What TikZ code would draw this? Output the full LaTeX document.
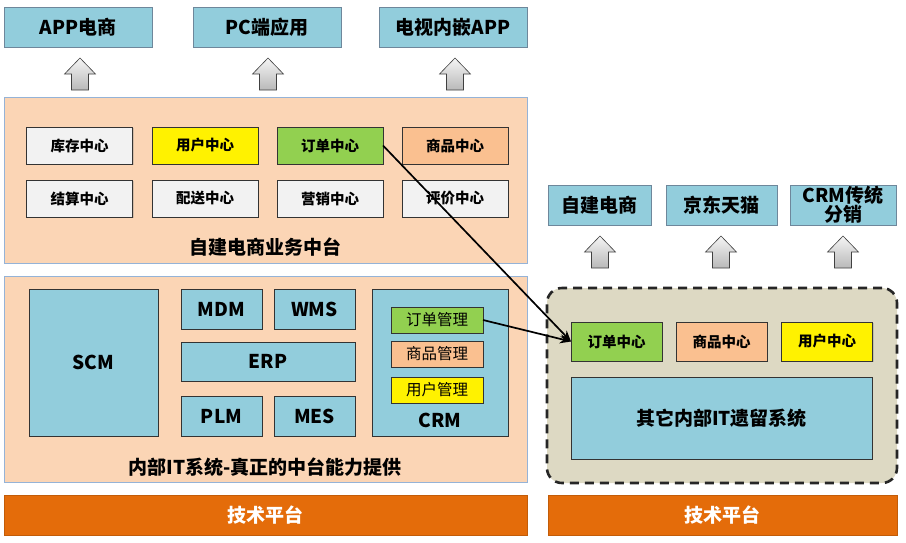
\documentclass[tikz,border=0pt]{standalone}
\usepackage{fontspec}
\setmainfont{Noto Sans CJK SC}
\usetikzlibrary{arrows.meta,shadows}
\definecolor{skyblue}{RGB}{146,205,220}
\definecolor{edgeblue}{RGB}{110,135,155}
\definecolor{peach}{RGB}{251,213,181}
\definecolor{layeredge}{RGB}{149,179,215}
\definecolor{apricot}{RGB}{250,192,144}
\definecolor{leafgreen}{RGB}{146,208,80}
\definecolor{lightgray}{RGB}{242,242,242}
\definecolor{techorange}{RGB}{228,108,10}
\definecolor{oldbg}{RGB}{221,217,195}
\newcommand{\headfont}{\fontsize{19}{20}\selectfont\bfseries}
\begin{document}
\begin{tikzpicture}[x=1pt,y=-1pt,
    box/.style={draw=black!80,line width=0.6pt,inner sep=0pt,outer sep=0pt,
      drop shadow={shadow xshift=1.2pt,shadow yshift=-1.2pt,opacity=0.3}},
    topbox/.style={box,draw=edgeblue,fill=skyblue,minimum height=40pt,font=\headfont},
    cell/.style={box,minimum width=106pt,minimum height=37pt,font=\fontsize{14.5}{15}\selectfont\bfseries},
    rcell/.style={box,minimum width=91pt,minimum height=39pt,font=\fontsize{14.5}{15}\selectfont\bfseries},
    sysbox/.style={box,fill=skyblue,font=\headfont},
    subbox/.style={box,minimum width=92pt,minimum height=26pt,font=\fontsize{15.5}{16}\selectfont},
    layer/.style={draw=layeredge,fill=peach,line width=0.8pt,inner sep=0pt,outer sep=0pt},
    platform/.style={draw=techorange!85!black,fill=techorange,line width=0.6pt,minimum height=40pt,
      inner sep=0pt,text=white,font=\headfont},
    title/.style={font=\headfont},
    uparrow/.style={draw=black!75,line width=0.6pt,top color=gray!8,bottom color=gray!55},
    link/.style={-{Stealth[length=11pt,width=9pt]},line width=1.7pt}
  ]
  \useasboundingbox (0,0) rectangle (906,542);

  \node[topbox,minimum width=148pt] (app) at (78,27) {APP电商};
  \node[topbox,minimum width=148pt] (pc) at (267,27) {PC端应用};
  \node[topbox,minimum width=148pt] (tv) at (453,27) {电视内嵌APP};

  \node[topbox,minimum width=103pt] (own) at (599.5,205) {自建电商};
  \node[topbox,minimum width=111pt] (jd) at (721.5,205) {京东天猫};
  \node[topbox,minimum width=106pt,align=center,font=\fontsize{19}{17}\selectfont\bfseries] (dist) at (843,205) {CRM传统\\分销};

  \foreach \x/\y in {80/58,268/58,455/58,600/236,721/236,843/236}
    \draw[uparrow] (\x,\y) -- ++(15.5,16) -- ++(-7,0) -- ++(0,16) -- ++(-17,0)
      -- ++(0,-16) -- ++(-7,0) -- cycle;

  \node[layer,minimum width=523pt,minimum height=166pt] (biz) at (265.5,180) {};
  \node[cell,fill=lightgray] (stock) at (79.5,145.5) {库存中心};
  \node[cell,fill=yellow] (user) at (205,145.5) {用户中心};
  \node[cell,fill=leafgreen] (order) at (330,145.5) {订单中心};
  \node[cell,fill=apricot] (goods) at (455,145.5) {商品中心};
  \node[cell,fill=lightgray] (settle) at (79.5,198.5) {结算中心};
  \node[cell,fill=lightgray] (ship) at (205,198.5) {配送中心};
  \node[cell,fill=lightgray] (market) at (330,198.5) {营销中心};
  \node[cell,fill=lightgray] (review) at (455,198.5) {评价中心};
  \node[title] (bizname) at (265,247) {自建电商业务中台};

  \node[layer,minimum width=523pt,minimum height=206pt] (inner) at (265.5,379) {};
  \node[sysbox,minimum width=129pt,minimum height=147pt] (scm) at (93.5,362.5) {SCM};
  \node[sysbox,minimum width=81pt,minimum height=40pt] (mdm) at (221.5,309) {MDM};
  \node[sysbox,minimum width=81pt,minimum height=40pt] (wms) at (314.5,309) {WMS};
  \node[sysbox,minimum width=174pt,minimum height=39pt] (erp) at (268,361.5) {ERP};
  \node[sysbox,minimum width=81pt,minimum height=40pt] (plm) at (221.5,416) {PLM};
  \node[sysbox,minimum width=81pt,minimum height=40pt] (mes) at (314.5,416) {MES};
  \node[sysbox,minimum width=136pt,minimum height=147pt] (crm) at (440,362.5) {};
  \node[title] (crmname) at (440,420) {CRM};
  \node[subbox,fill=leafgreen] (ordermgr) at (437,320) {订单管理};
  \node[subbox,fill=apricot] (goodsmgr) at (437,354) {商品管理};
  \node[subbox,fill=yellow] (usermgr) at (437,390) {用户管理};
  \node[title] (innername) at (265,467) {内部IT系统-真正的中台能力提供};

  \node[platform,minimum width=523pt] (techl) at (265.5,515) {技术平台};
  \node[platform,minimum width=349pt] (techr) at (722.5,515) {技术平台};

  \node[draw=black!85,fill=oldbg,line width=2.6pt,dash pattern=on 9pt off 6pt,rounded corners=15pt,
    minimum width=350pt,minimum height=195pt,inner sep=0pt] (legacy) at (722,385.5) {};
  \node[rcell,fill=leafgreen] (order2) at (616.5,341.5) {订单中心};
  \node[rcell,fill=apricot] (goods2) at (721.5,341.5) {商品中心};
  \node[rcell,fill=yellow] (user2) at (827,341.5) {用户中心};
  \node[sysbox,minimum width=301pt,minimum height=82pt] (oldsys) at (721.5,418) {其它内部IT遗留系统};

  \draw[link] (order.east) -- (order2.west);
  \draw[link] (ordermgr.east) -- (order2.west);
\end{tikzpicture}
\end{document}
